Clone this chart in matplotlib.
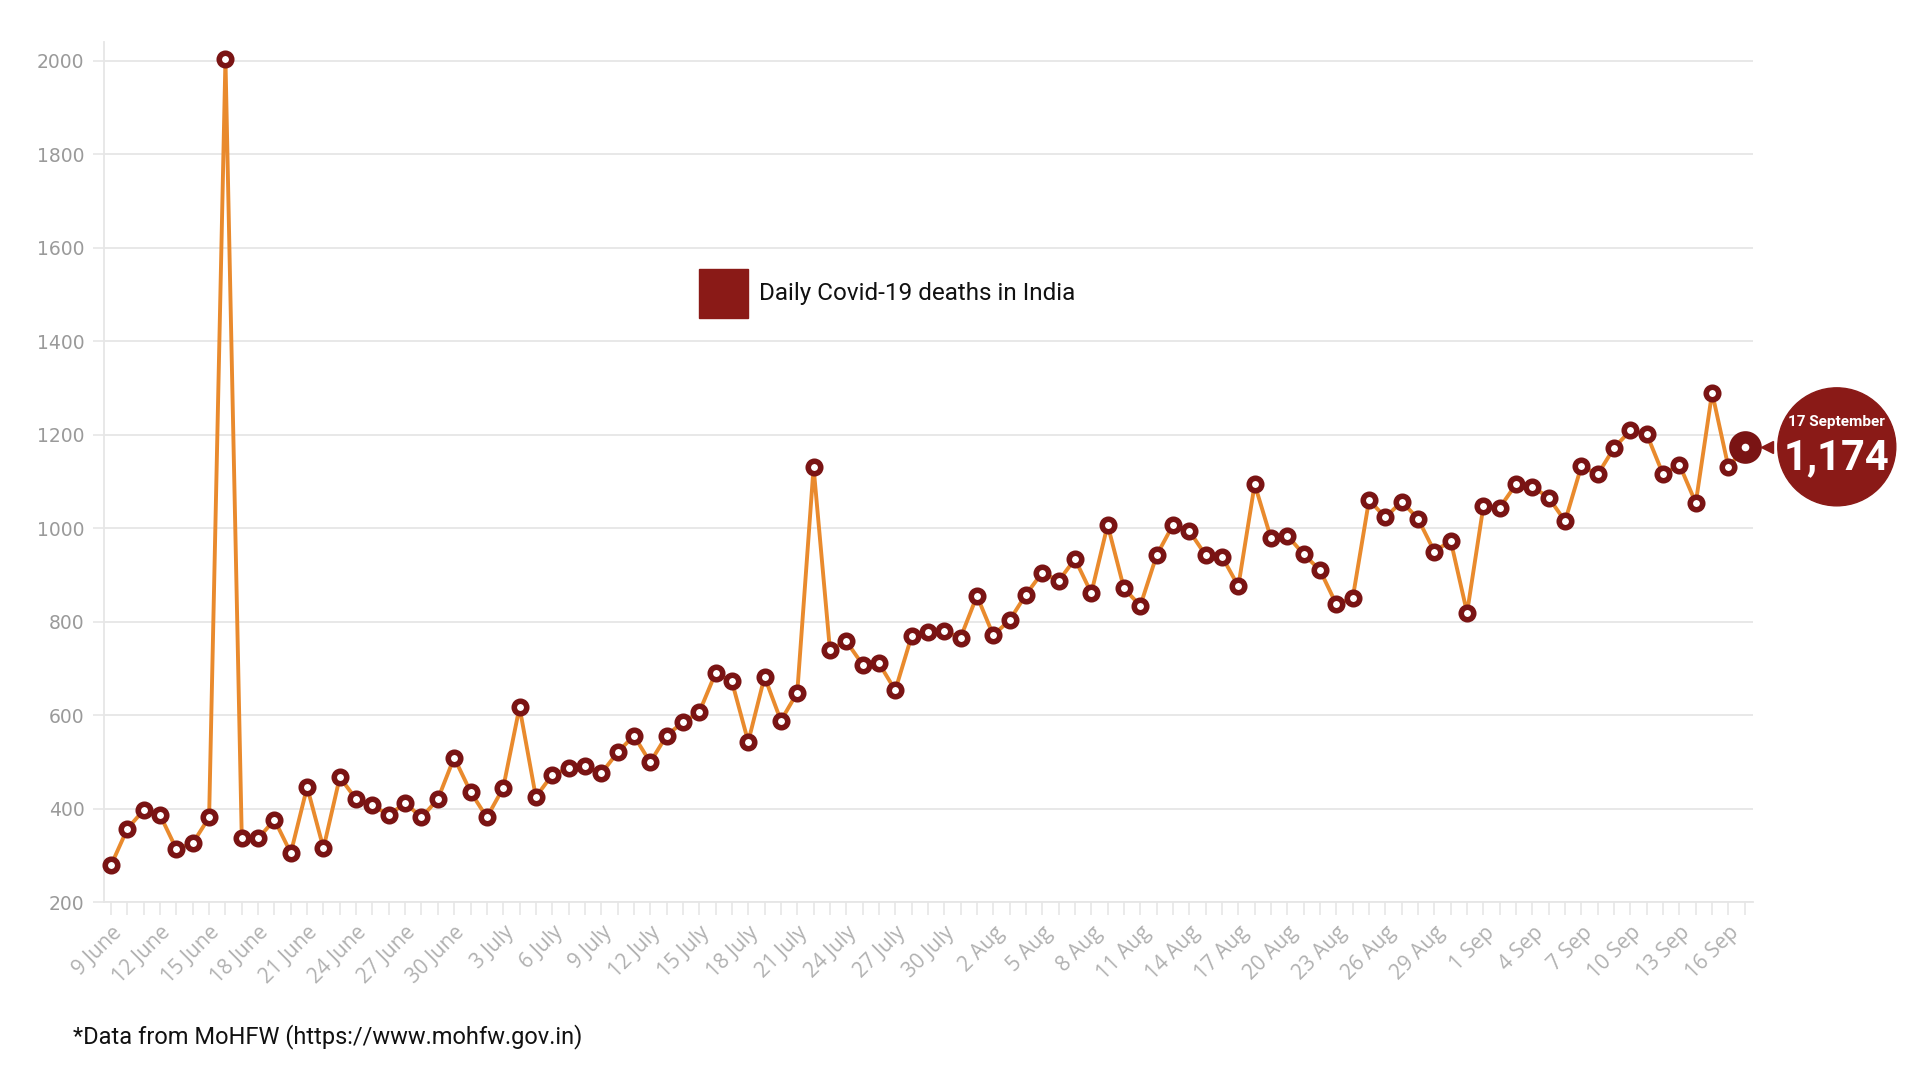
import matplotlib
matplotlib.use("Agg")
import matplotlib.pyplot as plt
import matplotlib.transforms as mtransforms
from matplotlib.patches import Circle, Rectangle
from matplotlib.lines import Line2D
import numpy as np

# ---- data (9 June - 17 September) ----
deaths_june = [279, 357, 397, 386, 313, 326, 381, 2003, 336, 336, 376, 305, 446, 315,
               467, 420, 407, 386, 412, 381, 420, 509]
deaths_july = [436, 381, 444, 617, 425, 472, 486, 491, 475, 520, 556, 499, 556, 585,
               606, 690, 672, 543, 682, 588, 648, 1130, 740, 758, 708, 711, 653, 769,
               777, 779, 766]
deaths_aug = [855, 771, 803, 858, 905, 887, 934, 861, 1007, 871, 834, 942, 1007, 994,
              942, 939, 876, 1094, 978, 984, 944, 910, 837, 850, 1060, 1023, 1057, 1020,
              950, 973, 819]
deaths_sep = [1047, 1044, 1094, 1089, 1065, 1015, 1133, 1115, 1172, 1209, 1201, 1115,
              1136, 1054, 1290, 1130, 1174]

tick_labels = ["9 June", "12 June", "15 June", "18 June", "21 June", "24 June", "27 June",
               "30 June", "3 July", "6 July", "9 July", "12 July", "15 July", "18 July",
               "21 July", "24 July", "27 July", "30 July", "2 Aug", "5 Aug", "8 Aug",
               "11 Aug", "14 Aug", "17 Aug", "20 Aug", "23 Aug", "26 Aug", "29 Aug",
               "1 Sep", "4 Sep", "7 Sep", "10 Sep", "13 Sep", "16 Sep"]
y_ticks = [200, 400, 600, 800, 1000, 1200, 1400, 1600, 1800, 2000]
legend_label = "Daily Covid-19 deaths in India"
highlight_date = "17 September"
highlight_value = "1,174"
footer = "*Data from MoHFW (https://www.mohfw.gov.in)"

deaths = deaths_june + deaths_july + deaths_aug + deaths_sep
x = np.arange(len(deaths))

ORANGE = "#E98A2D"
DARKRED = "#7A1414"
BADGE = "#8A1A17"
GRID = "#e6e6e6"

fig = plt.figure(figsize=(19.2, 10.8), dpi=100)
ax = fig.add_axes([0.0542, 0.1648, 0.9130 - 0.0542, 0.961 - 0.1648])

ax.plot(x, deaths, color=ORANGE, lw=2.8, zorder=3, clip_on=False,
        solid_joinstyle="miter")
ax.plot(x[:-1], deaths[:-1], ls="none", marker="o", ms=9, mfc="white",
        mec=DARKRED, mew=4, zorder=4, clip_on=False)
ax.plot(x[-1:], deaths[-1:], ls="none", marker="o", ms=14.5, mfc="white",
        mec=DARKRED, mew=9, zorder=5, clip_on=False)

ax.set_xlim(-0.43, 100.5)
ax.set_ylim(200, 2040)

ax.set_yticks(y_ticks)
ax.set_yticklabels([str(v) for v in y_ticks], fontsize=13.5, color="#9a9a9a",
                   family="DejaVu Sans")
ax.tick_params(axis="y", length=8, color=GRID, width=1.2, pad=6)

ax.set_xticks(x[::3][:len(tick_labels)])
ax.set_xticks(x, minor=True)
ax.set_xticklabels(tick_labels, rotation=45, ha="right", va="top",
                   rotation_mode="anchor", fontsize=15, color="#b0b0b0",
                   family="Open Sans")
ax.tick_params(axis="x", which="both", length=9.5, color=GRID, width=1.2, pad=5)

ax.yaxis.grid(True, color=GRID, lw=1.3)
ax.set_axisbelow(True)
for s in ["top", "right"]:
    ax.spines[s].set_visible(False)
for s in ["left", "bottom"]:
    ax.spines[s].set_color(GRID)
    ax.spines[s].set_linewidth(1.3)

# ---- highlight badge anchored to last data point ----
trans = fig.dpi_scale_trans + mtransforms.ScaledTranslation(x[-1], deaths[-1], ax.transData)
fig.add_artist(Circle((0.92, 0.0), 0.59, transform=trans, color=BADGE, zorder=6))
fig.add_artist(Line2D([0.225], [0.0], marker="<", ms=9, color=BADGE,
                      transform=trans, ls="none", zorder=6))
fig.text(0.92, 0.25, highlight_date, transform=trans, ha="center", va="center",
         color="white", fontsize=11, fontweight="bold", family="Roboto", zorder=7)
fig.text(0.92, -0.11, highlight_value, transform=trans, ha="center", va="center",
         color="white", fontsize=30, fontweight="bold", family="Roboto", zorder=7)

# ---- legend ----
fig.add_artist(Rectangle((0.364, 0.7056), 0.0255, 0.0454, transform=fig.transFigure,
                         color=BADGE, zorder=5))
fig.text(0.3953, 0.7278, legend_label, ha="left", va="center", fontsize=17.5,
         color="#111111", family="Roboto")

# ---- footer ----
fig.text(0.038, 0.0407, footer, ha="left", va="center", fontsize=17,
         color="#111111", family="Roboto")

fig.savefig("out.png", dpi=100)
